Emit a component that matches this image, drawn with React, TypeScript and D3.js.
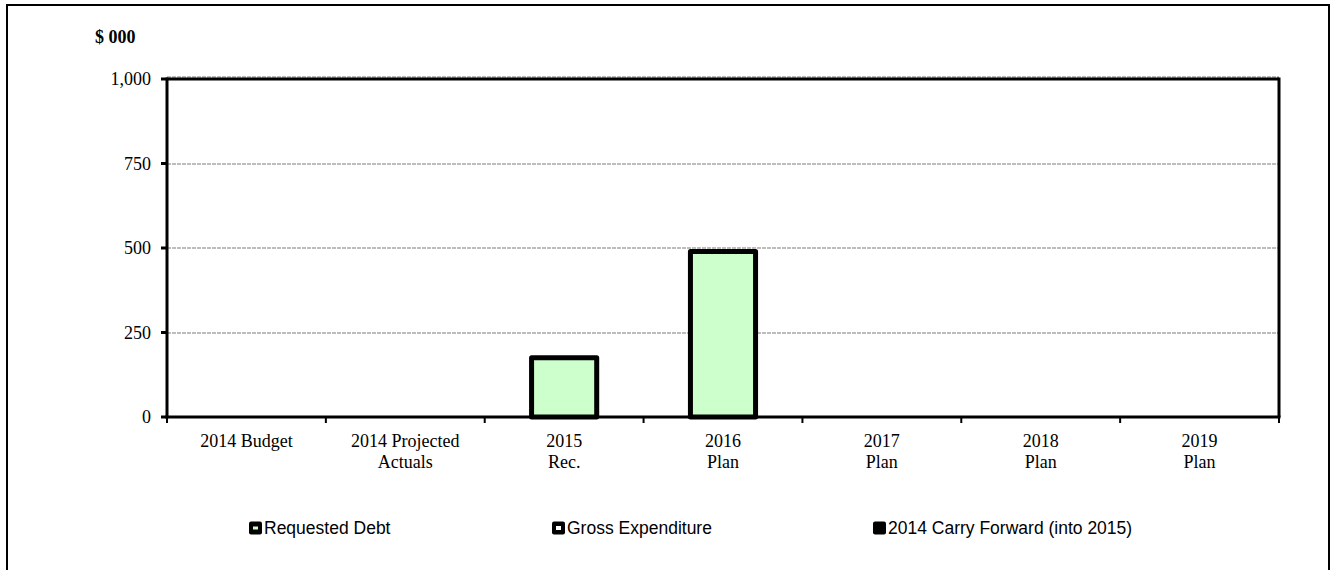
import React from "react";
import * as d3 from "d3";

const categories: string[][] = [
  ["2014 Budget"],
  ["2014 Projected", "Actuals"],
  ["2015", "Rec."],
  ["2016", "Plan"],
  ["2017", "Plan"],
  ["2018", "Plan"],
  ["2019", "Plan"],
];
const requestedDebt: number[] = [0, 0, 175, 490, 0, 0, 0];
const yTicks: number[] = [0, 250, 500, 750, 1000];
const legendItems: string[] = ["Requested Debt", "Gross Expenditure", "2014 Carry Forward (into 2015)"];
const legendX: number[] = [249, 552, 873];

export default function App() {
  const W = 1331, H = 570;
  const L = 167, R = 1279, T = 79, B = 417;
  const x = d3.scaleBand<number>().domain(categories.map((_, i) => i)).range([L, R]).paddingInner(0).paddingOuter(0);
  const y = d3.scaleLinear().domain([0, 1000]).range([B, T]);
  const bw = x.bandwidth() * 0.41;
  const fmt = d3.format(",");
  const serif = "Times New Roman, Liberation Serif, serif";
  return (
    <svg width={W} height={H} style={{ position: "absolute", left: 0, top: 0, background: "#fff" }}>
      <rect x={7} y={5} width={1322} height={570} fill="white" stroke="black" strokeWidth={2} />
      <text x={95} y={43} fontFamily={serif} fontWeight="bold" fontSize={18}>$ 000</text>
      {yTicks.filter(t => t > 0).map(t => {
        const yy = Math.round(y(t)) - (t === 1000 ? 2 : 0);
        return <line key={"g" + t} x1={L} x2={R} y1={yy} y2={yy} stroke="#bdbdbd" strokeWidth={2} strokeDasharray="4,1" />;
      })}
      {requestedDebt.map((v, i) => v > 0 ? (
        <rect key={"b" + i} x={x(i)! + (x.bandwidth() - bw) / 2} y={y(v)} width={bw} height={B - y(v)} fill="#CCFFCC" stroke="black" strokeWidth={5} strokeLinejoin="round" />
      ) : null)}
      <line x1={L} x2={R} y1={T} y2={T} stroke="black" strokeWidth={3} />
      <line x1={R} x2={R} y1={T - 1.5} y2={B} stroke="black" strokeWidth={3} />
      <line x1={L} x2={L} y1={T - 1.5} y2={B + 1.5} stroke="black" strokeWidth={3} />
      <line x1={L - 1.5} x2={R + 1.5} y1={B} y2={B} stroke="black" strokeWidth={3} />
      {yTicks.map(t => (
        <g key={"y" + t}>
          <line x1={L - 6} x2={L} y1={y(t)} y2={y(t)} stroke="black" strokeWidth={3} />
          <text x={151} y={y(t) + 6} textAnchor="end" fontFamily={serif} fontSize={18}>{fmt(t)}</text>
        </g>
      ))}
      {d3.range(categories.length + 1).map(i => (
        <line key={"xt" + i} x1={L + i * x.bandwidth()} x2={L + i * x.bandwidth()} y1={B} y2={B + 6} stroke="black" strokeWidth={2} />
      ))}
      {categories.map((lines, i) => (
        <text key={"c" + i} x={x(i)! + x.bandwidth() / 2} textAnchor="middle" fontFamily={serif} fontSize={18}>
          {lines.map((ln, j) => <tspan key={j} x={x(i)! + x.bandwidth() / 2} y={447 + j * 21}>{ln}</tspan>)}
        </text>
      ))}
      {legendItems.map((s, i) => (
        <g key={"l" + i}>
          <rect x={legendX[i]} y={521.5} width={13} height={13} rx={2} fill="black" />
          {i === 0 && <rect x={legendX[i] + 4} y={526.5} width={5} height={3} fill="#CCFFCC" />}
          {i === 1 && <rect x={legendX[i] + 4} y={526} width={5} height={4} fill="white" />}
          <text x={legendX[i] + 15} y={534} fontFamily="Arial, Liberation Sans, sans-serif" fontSize={17.5}>{s}</text>
        </g>
      ))}
    </svg>
  );
}
